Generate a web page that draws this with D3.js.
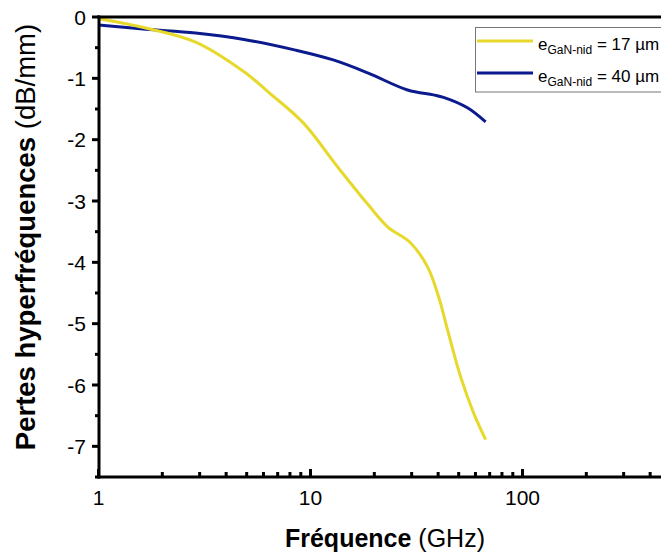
<!DOCTYPE html>
<html><head><meta charset="utf-8">
<script src="https://cdn.jsdelivr.net/npm/d3@7"></script>
<style>body{margin:0;background:#fff}svg{display:block}text{font-family:"Liberation Sans",Arial,sans-serif}</style>
</head><body><div id="c"></div>
<script>
const freq17 = [1, 1.67, 2.87, 4.93, 6.41, 9.27, 13.4, 18.6, 23.1, 29.6, 35.6, 40.2, 44.3, 51.0, 58.7, 67];
const loss17 = [-0.03, -0.18, -0.41, -0.91, -1.24, -1.73, -2.44, -3.05, -3.42, -3.68, -4.07, -4.56, -5.10, -5.86, -6.45, -6.89];
const freq40 = [1, 1.67, 2.87, 4.93, 8.5, 12.8, 18.6, 28.7, 38.0, 42.4, 55.0, 67];
const loss40 = [-0.13, -0.20, -0.26, -0.37, -0.54, -0.70, -0.91, -1.19, -1.27, -1.31, -1.48, -1.71];
const xTicks = [1, 10, 100];
const yTicks = [0, -1, -2, -3, -4, -5, -6, -7];
const seriesNames = ["17 µm", "40 µm"];
const colors = ["#e6d92c", "#0b1a8c"];

const W = 661, H = 556;
const svg = d3.select("#c").append("svg").attr("width", W).attr("height", H);
const x = d3.scaleLog().domain([1, 500]).range([98.5, 98.5 + Math.log10(500) * 212]);
const y = d3.scaleLinear().domain([-7.5, 0]).range([477, 17]);

const series = [
  {name: seriesNames[0], data: freq17.map((f, i) => [f, loss17[i]]), color: colors[0]},
  {name: seriesNames[1], data: freq40.map((f, i) => [f, loss40[i]]), color: colors[1]}
];
const line = d3.line().x(d => x(d[0])).y(d => y(d[1])).curve(d3.curveCatmullRom.alpha(0.5));

[series[1], series[0]].forEach(s => {
  svg.append("path").attr("d", line(s.data)).attr("fill", "none")
    .attr("stroke", s.color).attr("stroke-width", 3).attr("stroke-linejoin", "round").attr("stroke-linecap", "butt");
});

const ax = svg.append("g");
ax.append("line").attr("x1", 99).attr("x2", 99).attr("y1", 15.5).attr("y2", 478.5).attr("stroke", "#000").attr("stroke-width", 3);
ax.append("line").attr("x1", 97.5).attr("x2", W).attr("y1", 477).attr("y2", 477).attr("stroke", "#000").attr("stroke-width", 3);
ax.append("line").attr("x1", 97.5).attr("x2", W).attr("y1", 17).attr("y2", 17).attr("stroke", "#000").attr("stroke-width", 3);

yTicks.forEach(v => {
  ax.append("line").attr("x1", 92).attr("x2", 99).attr("y1", y(v)).attr("y2", y(v)).attr("stroke", "#000").attr("stroke-width", 3);
  ax.append("text").attr("x", 86).attr("y", y(v) + 7.5).attr("text-anchor", "end").attr("font-size", 21).text(v === 0 ? "0" : "-" + Math.abs(v));
});
for (let v = -0.5; v >= -7.5; v -= 1) {
  ax.append("line").attr("x1", 95).attr("x2", 99).attr("y1", y(v)).attr("y2", y(v)).attr("stroke", "#000").attr("stroke-width", 3);
}
xTicks.forEach(v => {
  ax.append("line").attr("x1", x(v)).attr("x2", x(v)).attr("y1", 477).attr("y2", 469).attr("stroke", "#000").attr("stroke-width", 3);
  ax.append("text").attr("x", x(v)).attr("y", 505).attr("text-anchor", "middle").attr("font-size", 21).text(v);
});
[1, 10, 100].forEach(dec => {
  for (let k = 2; k <= 9; k++) {
    const v = dec * k;
    if (v > 500) break;
    ax.append("line").attr("x1", x(v)).attr("x2", x(v)).attr("y1", 477).attr("y2", 472).attr("stroke", "#000").attr("stroke-width", 3);
  }
});

const xt = svg.append("text").attr("x", 385).attr("y", 547).attr("text-anchor", "middle").attr("font-size", 25);
xt.append("tspan").attr("font-weight", "bold").text("Fréquence");
xt.append("tspan").text(" (GHz)");
const yt = svg.append("text").attr("transform", "translate(35,237) rotate(-90)").attr("text-anchor", "middle").attr("font-size", 27.5);
yt.append("tspan").attr("font-weight", "bold").text("Pertes hyperfréquences");
yt.append("tspan").text(" (dB/mm)");

const lg = svg.append("g");
lg.append("rect").attr("x", 475.5).attr("y", 27.5).attr("width", 200).attr("height", 64.5).attr("fill", "#fff").attr("stroke", "#777").attr("stroke-width", 1);
series.forEach((s, i) => {
  const ly = 41 + i * 32;
  lg.append("line").attr("x1", 477).attr("x2", 533).attr("y1", ly).attr("y2", ly).attr("stroke", s.color).attr("stroke-width", 3);
  const t = lg.append("text").attr("x", 538).attr("y", ly + 9).attr("font-size", 17);
  t.append("tspan").text("e");
  t.append("tspan").attr("font-size", 12).attr("dy", 4).text("GaN-nid");
  t.append("tspan").attr("dy", -4).text(" = " + s.name);
});
</script></body></html>
